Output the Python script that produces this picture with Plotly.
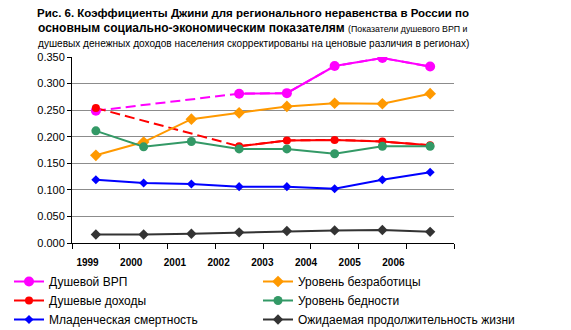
import plotly.graph_objects as go

years = ["1999", "2000", "2001", "2002", "2003", "2004", "2005", "2006"]

grp = [0.249, None, None, 0.281, 0.282, 0.333, 0.348, 0.332]
unemployment = [0.165, 0.190, 0.233, 0.245, 0.257, 0.263, 0.262, 0.281]
income = [0.254, None, None, 0.182, 0.193, 0.194, 0.191, 0.184]
poverty = [0.211, 0.181, 0.191, 0.177, 0.177, 0.168, 0.182, 0.182]
infant = [0.119, 0.113, 0.111, 0.106, 0.106, 0.102, 0.119, 0.133]
life = [0.016, 0.016, 0.0175, 0.020, 0.0225, 0.0237, 0.0245, 0.021]

# name, values, colour, marker, marker size, legend column
series = [
    ("Душевой ВРП", grp, "#FF00FF", "circle", 10, "legend"),
    ("Уровень безработицы", unemployment, "#FF9900", "diamond", 9, "legend2"),
    ("Душевые доходы", income, "#FF0000", "circle", 8, "legend"),
    ("Уровень бедности", poverty, "#339966", "circle", 9, "legend2"),
    ("Младенческая смертность", infant, "#0000FF", "diamond", 7, "legend"),
    ("Ожидаемая продолжительность жизни", life, "#333333", "diamond", 8, "legend2"),
]

fig = go.Figure()
# dashed connectors across missing years
for name, vals, color, sym, size, leg in series:
    if any(v is None for v in vals):
        fig.add_trace(go.Scatter(x=years, y=vals, mode="lines", connectgaps=True,
                                 line=dict(color=color, width=2, dash="10px,5px"),
                                 showlegend=False, hoverinfo="skip"))
for name, vals, color, sym, size, leg in series:
    fig.add_trace(go.Scatter(x=years, y=vals, mode="lines+markers", name=name,
                             connectgaps=False, legend=leg,
                             line=dict(color=color, width=2),
                             marker=dict(symbol=sym, size=size, color=color)))

font = "Arial, Liberation Sans, sans-serif"
legend_common = dict(orientation="v", xref="container", yref="container",
                     xanchor="left", y=1 - 267 / 330, yanchor="top",
                     traceorder="normal",
                     font=dict(family=font, size=12, color="black"),
                     bgcolor="rgba(0,0,0,0)", itemwidth=30)
fig.update_layout(
    width=571, height=330,
    margin=dict(l=72, r=117, t=57, b=87, autoexpand=False),
    paper_bgcolor="white", plot_bgcolor="white",
    font=dict(family=font, color="black", size=11),
    xaxis=dict(type="category", categoryorder="array", categoryarray=years,
               range=[-0.5, 7.5], showgrid=False, showline=True, linecolor="black",
               linewidth=1, ticks="outside", ticklen=5, tickcolor="black",
               tickson="boundaries", showticklabels=False, zeroline=False),
    xaxis2=dict(type="category", categoryorder="array", categoryarray=years,
                range=[-0.3547, 8.386], overlaying="x", anchor="y", side="bottom",
                showgrid=False, showline=False, ticks="", showticklabels=True,
                ticklabelstandoff=12, zeroline=False,
                tickfont=dict(family=font, size=10, color="black", weight="bold")),
    yaxis=dict(range=[0, 0.35], dtick=0.05, tickformat=".3f", showgrid=True,
               gridcolor="#8C8C8C", gridwidth=1, showline=True, linecolor="black",
               linewidth=1, ticks="outside", ticklen=4, tickcolor="black",
               zeroline=False, tickfont=dict(family=font, size=11, color="black")),
    legend=dict(x=9 / 571, **legend_common),
    legend2=dict(x=258 / 571, **legend_common),
    showlegend=True,
)
# invisible trace to activate xaxis2
fig.add_trace(go.Scatter(x=years, y=[None] * len(years), xaxis="x2", showlegend=False,
                         hoverinfo="skip", mode="lines"))

fig.add_annotation(text="<b>Рис. 6. Коэффициенты Джини для регионального неравенства в России по</b>",
                   xref="paper", yref="paper", x=0.474, y=(243 - 12.5) / 186,
                   xanchor="center", yanchor="middle", showarrow=False,
                   font=dict(family=font, size=11.5, color="black"))
fig.add_annotation(text="<b>основным социально-экономическим показателям</b> "
                        "<span style='font-size:8.8px'>(Показатели душевого ВРП и</span>",
                   xref="paper", yref="paper", x=0.474, y=(243 - 28.5) / 186,
                   xanchor="center", yanchor="middle", showarrow=False,
                   font=dict(family=font, size=12, color="black"))
fig.add_annotation(text="душевых денежных доходов населения скорректированы на ценовые различия в регионах)",
                   xref="paper", yref="paper", x=0.474, y=(243 - 43.5) / 186,
                   xanchor="center", yanchor="middle", showarrow=False,
                   font=dict(family=font, size=10.1, color="black"))

fig.write_html("out.html")
